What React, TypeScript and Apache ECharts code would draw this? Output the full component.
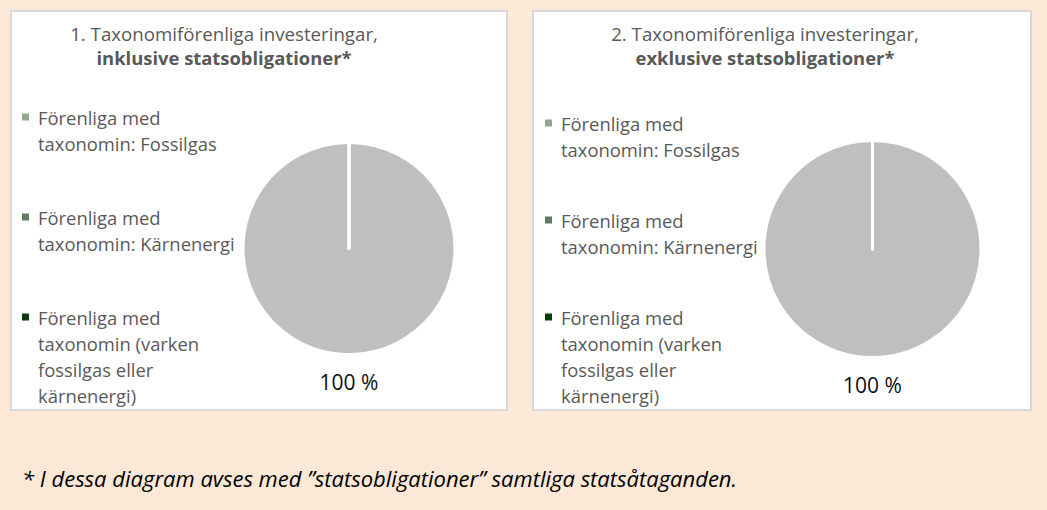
import React, { useEffect, useRef } from "react";
import * as echarts from "echarts";

const legendNames = [
  "Förenliga med\ntaxonomin: Fossilgas",
  "Förenliga med\ntaxonomin: Kärnenergi",
  "Förenliga med\ntaxonomin (varken\nfossilgas eller\nkärnenergi)",
];
const otherName = "Ej förenliga med taxonomin";
const legendColors = ["#92A98D", "#5F7B60", "#0B3D0B"];
const otherColor = "#BFBFBF";

const chart1Values = [0, 0, 0];
const chart1Other = 100;
const chart2Values = [0, 0, 0];
const chart2Other = 100;

const titles = [
  ["1. Taxonomiförenliga investeringar,", "inklusive statsobligationer*"],
  ["2. Taxonomiförenliga investeringar,", "exklusive statsobligationer*"],
];
const footnote = "* I dessa diagram avses med ”statsobligationer” samtliga statsåtaganden.";

const FONT = "'Open Sans', Lato, sans-serif";
const TEXT_GRAY = "#595959";
const LINE_H = 26;

function iconFor(lines: number) {
  const h = 7 + (lines - 1) * LINE_H;
  return {
    h,
    icon: `path://M0,0h7v7h-7z M10.99,${h - 0.01}h0.01v0.01h-0.01z`,
  };
}

function makeLegends(left: number, tops: number[], key: string) {
  return legendNames.map((name, i) => {
    const lines = name.split("\n").length;
    const { h, icon } = iconFor(lines);
    return {
      id: key + i,
      orient: "vertical",
      left,
      top: tops[i],
      padding: 0,
      itemWidth: 11,
      itemHeight: h,
      icon,
      selectedMode: false,
      itemStyle: { borderWidth: 0 },
      data: [name],
      textStyle: {
        fontFamily: FONT,
        fontSize: 18.4,
        color: TEXT_GRAY,
        lineHeight: LINE_H,
      },
    };
  });
}

function makePie(values: number[], other: number, center: number[], radius: number) {
  const data = [
    {
      name: otherName,
      value: other,
      itemStyle: { color: otherColor },
      label: { show: true },
    },
    ...legendNames.map((name, i) => ({
      name,
      value: values[i],
      itemStyle: { color: legendColors[i] },
      label: { show: false },
    })),
  ];
  return {
    type: "pie",
    center,
    radius,
    startAngle: 90,
    clockwise: true,
    avoidLabelOverlap: false,
    silent: true,
    itemStyle: { borderColor: "#FFFFFF", borderWidth: 3 },
    label: {
      position: "outside",
      formatter: "{c} %",
      color: "#0D0D0D",
      fontFamily: FONT,
      fontSize: 21,
      distanceToLabelLine: 0,
    },
    labelLine: { show: false, length: 27, length2: 0 },
    labelLayout: (params: any) => ({ dx: params.labelRect.width / 2 }),
    emphasis: { disabled: true },
    data,
  };
}

export default function App() {
  const ref = useRef<HTMLDivElement>(null);
  useEffect(() => {
    document.body.style.margin = "0";
    const chart = echarts.init(ref.current!, undefined, { renderer: "svg" });
    const titleStyle = {
      fontFamily: FONT,
      fontSize: 18.7,
      color: TEXT_GRAY,
      fontWeight: "normal",
      lineHeight: 24,
      rich: {
        b: {
          fontFamily: FONT,
          fontSize: 18.4,
          color: TEXT_GRAY,
          fontWeight: "bold",
          lineHeight: 24,
        },
      },
    };
    chart.setOption({
      animation: false,
      backgroundColor: "#FBE8D6",
      title: [
        {
          text: `${titles[0][0]}\n{b|${titles[0][1]}}`,
          left: 224,
          top: 21,
          padding: 0,
          textAlign: "center",
          textStyle: titleStyle,
        },
        {
          text: `${titles[1][0]}\n{b|${titles[1][1]}}`,
          left: 765,
          top: 21,
          padding: 0,
          textAlign: "center",
          textStyle: titleStyle,
        },
      ],
      graphic: [
        {
          type: "rect",
          z: -10,
          shape: { x: 11, y: 11, width: 496, height: 399 },
          style: { fill: "#FFFFFF", stroke: "#D9D9D9", lineWidth: 2 },
          silent: true,
        },
        {
          type: "rect",
          z: -10,
          shape: { x: 533, y: 11, width: 498, height: 399 },
          style: { fill: "#FFFFFF", stroke: "#D9D9D9", lineWidth: 2 },
          silent: true,
        },
        {
          type: "text",
          x: 22,
          y: 478,
          silent: true,
          style: {
            text: footnote,
            fill: "#000000",
            font: `italic 22px ${FONT}`,
            verticalAlign: "middle",
          },
        },
      ],
      legend: [
        ...makeLegends(22, [104, 204, 304], "a"),
        ...makeLegends(545, [110, 207, 304], "b"),
      ],
      series: [
        makePie(chart1Values, chart1Other, [349, 248.5], 106),
        makePie(chart2Values, chart2Other, [872.5, 249], 108.5),
      ],
    });
    return () => chart.dispose();
  }, []);
  return <div ref={ref} style={{ width: 1047, height: 510 }} />;
}
